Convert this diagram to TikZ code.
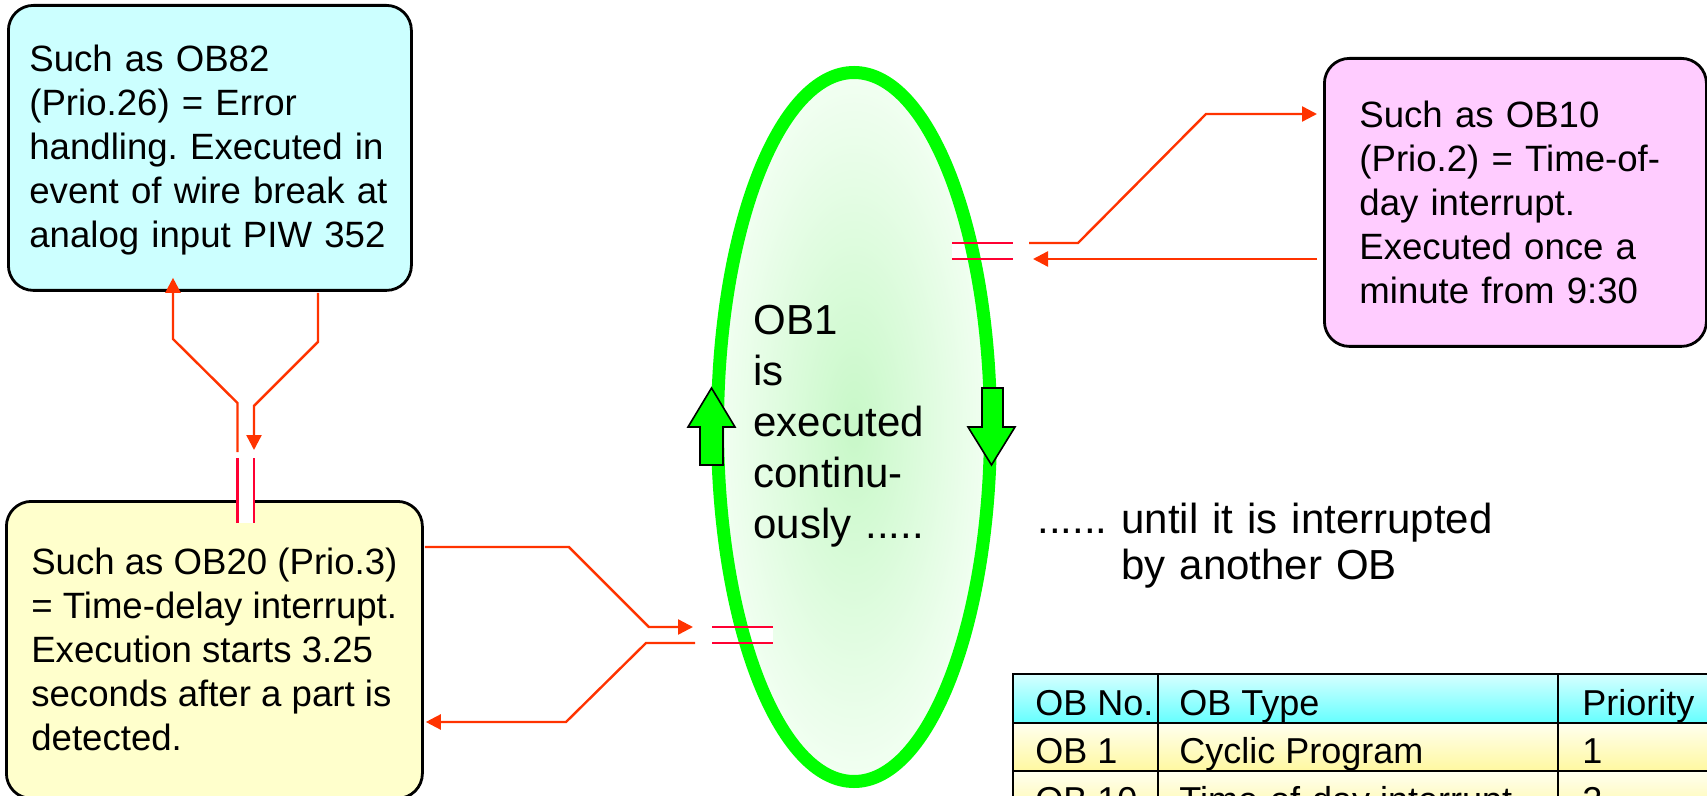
\documentclass[tikz,border=0pt]{standalone}
\usepackage{fontspec}
\setmainfont{Liberation Sans}
\usetikzlibrary{arrows.meta, calc}
\frenchspacing

\definecolor{OBCyan}{HTML}{CCFFFF}
\definecolor{OBPink}{HTML}{FFCCFF}
\definecolor{OBYellow}{HTML}{FFFFCC}
\definecolor{OBGreen}{HTML}{00FF00}
\definecolor{OBGlowIn}{HTML}{C8F8C8}
\definecolor{OBGlowOut}{HTML}{F2FFF2}
\definecolor{IrqRed}{HTML}{FF3300}
\definecolor{GapRed}{HTML}{FF0033}
\definecolor{HeadTop}{HTML}{D6FFFF}
\definecolor{HeadBot}{HTML}{66FFFF}
\definecolor{RowTop}{HTML}{FFFFF0}
\definecolor{RowBot}{HTML}{FFF8A0}

\begin{document}
\begin{tikzpicture}[x=0.5pt, y=-0.5pt, >={Triangle[length=7.5pt, width=7.5pt]},
  obbox/.style={draw=black, line width=1.4pt, rounded corners=12.5pt, anchor=north west,
    align=left, font=\fontsize{18.3}{22}\selectfont},
  irq/.style={->, IrqRed, line width=1.2pt},
  gapline/.style={GapRed, line width=1.2pt},
  bigarrow/.style={draw=black, fill=OBGreen, line width=0.8pt, line join=miter},
  cell/.style={draw=black, line width=1pt}]
  \useasboundingbox (0,0) rectangle (1707,796);
  \clip (0,0) rectangle (1707,796);

  % Interrupt OBs
  \node[obbox, fill=OBCyan, minimum width=201.5pt, minimum height=142.5pt,
    text width=180.5pt, inner xsep=10.5pt, text height=15pt] (ob82) at (7,4)
    {Such as OB82\\(Prio.26) = Error\\handling. Executed in\\event of wire break at\\analog input PIW 352};
  \node[obbox, fill=OBPink, minimum width=191pt, minimum height=144pt,
    text width=156pt, inner xsep=17.5pt] (ob10) at (1323,57)
    {Such as OB10\\(Prio.2) = Time-of-\\day interrupt.\\Executed once a\\minute from 9:30};
  \node[obbox, fill=OBYellow, minimum width=208pt, minimum height=148.5pt] (ob20) at (5,500)
    {Such as OB20 (Prio.3)\\= Time-delay interrupt.\\Execution starts 3.25\\seconds after a part is\\detected.};

  % OB1 loop
  \path[shading=radial, inner color=OBGlowIn, outer color=OBGlowOut]
    (854,427) ellipse [x radius=68.25pt, y radius=177.25pt];
  \fill[white] (237,458) rectangle (254,523);
  \fill[white] (712,627) rectangle (773,643);
  \fill[white] (952,243) rectangle (1013,259);
  \draw[OBGreen, line width=6.5pt] (854,427) ellipse [x radius=68.25pt, y radius=177.25pt];

  % Break marks
  \draw[gapline] (237.5,458) -- (237.5,523) (254,458) -- (254,523);
  \foreach \xa/\xb/\ya/\yb in {712/773/627/643, 952/1013/243/259}
    \draw[gapline] (\xa,\ya) -- (\xb,\ya) (\xa,\yb) -- (\xb,\yb);

  \coordinate (gapA-out) at (237.5,452);
  \coordinate (gapA-in) at (254,450);
  \coordinate (gapB-in) at (693,627);
  \coordinate (gapB-out) at (695,643);
  \coordinate (gapC-out) at (1029,243);
  \coordinate (gapC-in) at (1033,259);

  % Jumps into the interrupt OBs and back
  \draw[irq] (gapA-out) -- ++(0,-49) -- ++(-64.5,-64) -- ($(ob82.south west)+(166,-14)$);
  \draw[irq] ($(ob82.south west)+(311,1)$) -- ++(0,49) -- ++(-64,64) -- (gapA-in);
  \draw[irq] ($(ob20.north east)+(1,47)$) -- ++(144,0) -- ++(80,80) -- (gapB-in);
  \draw[irq] (gapB-out) -- ++(-49,0) -- ++(-80,79) -- ($(ob20.north east)+(2,222)$);
  \draw[irq] (gapC-out) -- ++(49,0) -- ++(128,-129) -- ($(ob10.north west)+(-6,57)$);
  \draw[irq] ($(ob10.north west)+(-6,202)$) -- (gapC-in);

  % Direction of the cycle
  \draw[bigarrow] (700,465) -- (700,427) -- (688,427) -- (711.5,388) -- (735,427)
    -- (723,427) -- (723,465) -- cycle;
  \draw[bigarrow] (982,388) -- (1003,388) -- (1003,427) -- (1015,427) -- (991.5,465)
    -- (968,427) -- (982,427) -- cycle;

  \node[anchor=base west, inner sep=0pt, text width=160pt, align=left,
    font=\fontsize{21}{25.5}\selectfont] (ob1txt) at (753,335)
    {OB1\\is\\executed\\continu-\\ously .....};
  \node[anchor=base west, inner sep=0pt, text width=240pt, align=left,
    font=\fontsize{21}{23}\selectfont] (until) at (1037,533)
    {...... until it is interrupted\\\hphantom{......~}by another OB};

  % Priority table
  \foreach \ry/\tone/\obno/\obtype/\obprio [count=\i] in
    {674/Head/OB No./OB Type/Priority, 722.5/Row/OB 1/Cyclic Program/1,
     771/Row/OB 10/Time-of-day interrupt/2} {
    \foreach \xa/\xb in {1013/1158, 1158/1558, 1558/1760}
      \draw[cell, top color=\tone Top, bottom color=\tone Bot] (\xa,\ry) rectangle (\xb,\ry+48.5);
    \node[anchor=base west, inner sep=0pt, font=\fontsize{18}{22}\selectfont] (no\i) at (1035,\ry+41) {\obno};
    \node[anchor=base west, inner sep=0pt, font=\fontsize{18}{22}\selectfont] (type\i) at (1179,\ry+41) {\obtype};
    \node[anchor=base west, inner sep=0pt, font=\fontsize{18}{22}\selectfont] (prio\i) at (1582,\ry+41) {\obprio};
  }
\end{tikzpicture}
\end{document}
